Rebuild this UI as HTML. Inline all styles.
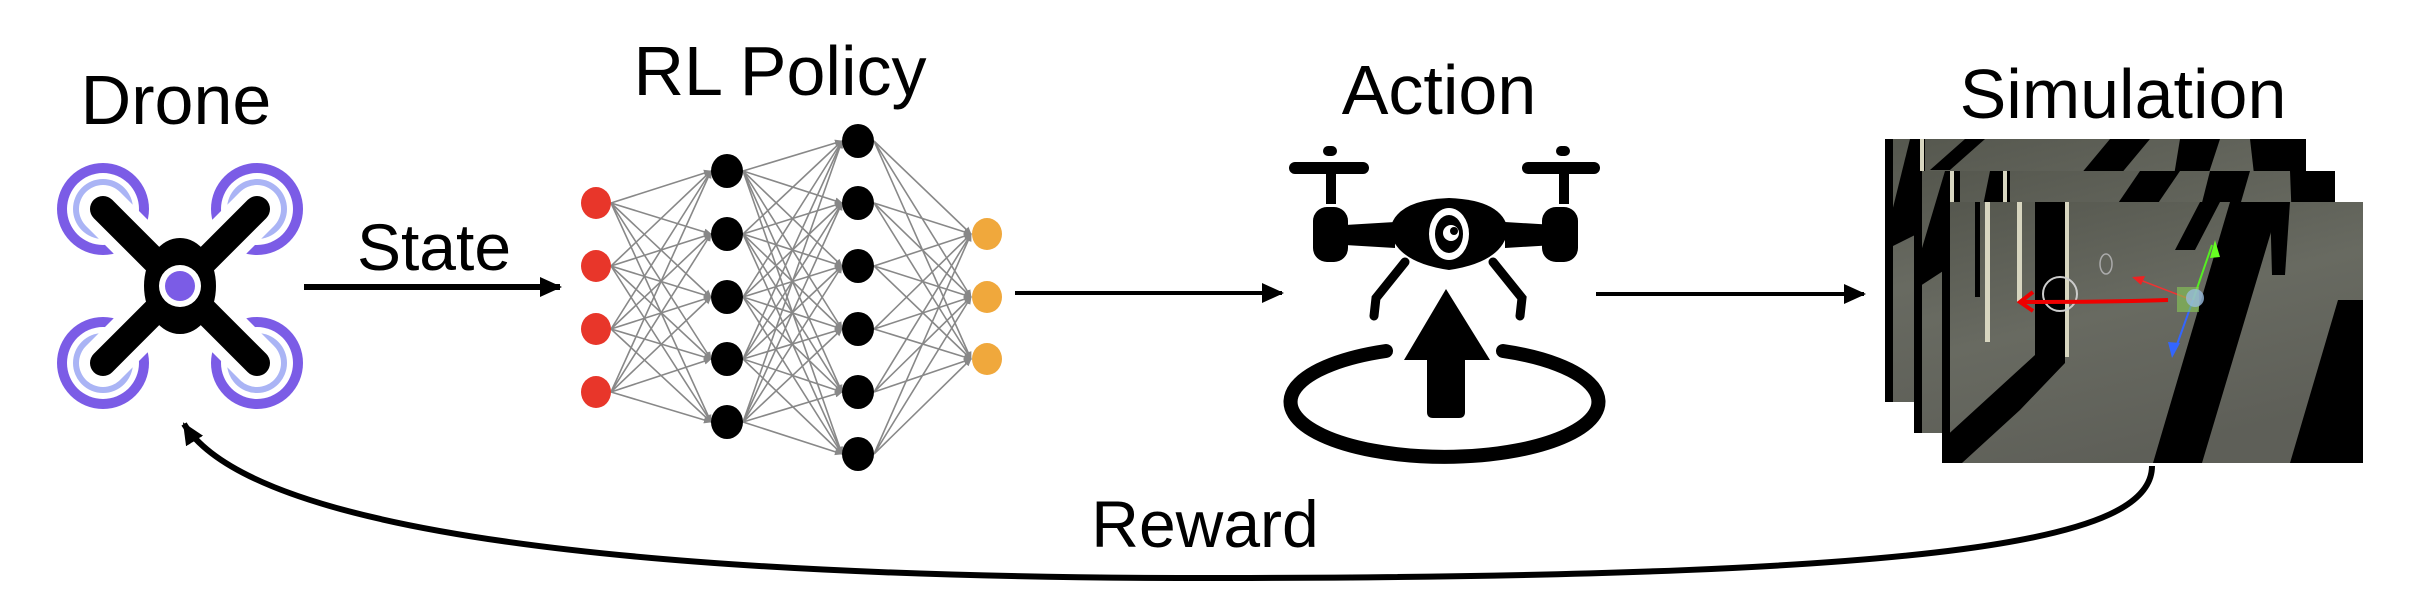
<!DOCTYPE html>
<html><head><meta charset="utf-8">
<style>
html,body{margin:0;padding:0;background:#fff;}
svg{display:block;}
text{font-family:"Liberation Sans",sans-serif;fill:#000;}
</style></head>
<body>
<svg width="2418" height="590" viewBox="0 0 2418 590" xmlns="http://www.w3.org/2000/svg">
<defs>
<marker id="ag" markerWidth="8" markerHeight="8" refX="7" refY="4" orient="auto" markerUnits="userSpaceOnUse">
<path d="M0,0.5 L8,4 L0,7.5 z" fill="#888"/></marker>
<marker id="ab" markerWidth="24" markerHeight="24" refX="20" refY="12" orient="auto" markerUnits="userSpaceOnUse">
<path d="M0,2 L22,12 L0,22 z" fill="#000"/></marker>
<linearGradient id="fl" x1="0" y1="0" x2="0.4" y2="1">
<stop offset="0" stop-color="#55574e"/><stop offset="0.5" stop-color="#686a61"/><stop offset="1" stop-color="#5e5f58"/></linearGradient>
</defs>

<text x="176" y="124" font-size="70" text-anchor="middle">Drone</text>
<text x="780" y="95" font-size="70" text-anchor="middle">RL Policy</text>
<text x="1439" y="114" font-size="70" text-anchor="middle">Action</text>
<text x="2123" y="118" font-size="70" text-anchor="middle">Simulation</text>
<text x="434" y="270" font-size="66" text-anchor="middle">State</text>
<text x="1205" y="547" font-size="66" text-anchor="middle">Reward</text>

<!-- Drone icon -->
<g>
<g fill="#7b5ce6">
<circle cx="103" cy="209" r="46"/><circle cx="257" cy="209" r="46"/>
<circle cx="103" cy="363" r="46"/><circle cx="257" cy="363" r="46"/></g>
<g fill="#fff">
<circle cx="103" cy="209" r="36"/><circle cx="257" cy="209" r="36"/>
<circle cx="103" cy="363" r="36"/><circle cx="257" cy="363" r="36"/></g>
<g fill="#aab4f5">
<circle cx="103" cy="209" r="30"/><circle cx="257" cy="209" r="30"/>
<circle cx="103" cy="363" r="30"/><circle cx="257" cy="363" r="30"/></g>
<g stroke="#fff" stroke-width="48" stroke-linecap="round">
<line x1="103" y1="209" x2="257" y2="363"/><line x1="257" y1="209" x2="103" y2="363"/></g>
<ellipse cx="180" cy="286" rx="44" ry="58" fill="#fff"/>
<g stroke="#000" stroke-width="26" stroke-linecap="round">
<line x1="103" y1="209" x2="257" y2="363"/><line x1="257" y1="209" x2="103" y2="363"/></g>
<path d="M140,245 Q180,265 220,245 Q198,286 220,327 Q180,307 140,327 Q162,286 140,245 z" fill="#000"/>
<ellipse cx="180" cy="286" rx="36" ry="48" fill="#000"/>
<circle cx="180" cy="286" r="21" fill="#fff"/>
<circle cx="180" cy="286" r="15" fill="#7b5ce6"/>
</g>

<line x1="304" y1="287" x2="560" y2="287" stroke="#000" stroke-width="6" marker-end="url(#ab)"/>

<g stroke="#888" stroke-width="1.6" fill="none">
<line marker-end="url(#ag)" x1="611" y1="203" x2="711" y2="171"/><line marker-end="url(#ag)" x1="611" y1="203" x2="711" y2="234"/><line marker-end="url(#ag)" x1="611" y1="203" x2="711" y2="297"/><line marker-end="url(#ag)" x1="611" y1="203" x2="711" y2="359"/><line marker-end="url(#ag)" x1="611" y1="203" x2="711" y2="422"/>
<line marker-end="url(#ag)" x1="611" y1="266" x2="711" y2="171"/><line marker-end="url(#ag)" x1="611" y1="266" x2="711" y2="234"/><line marker-end="url(#ag)" x1="611" y1="266" x2="711" y2="297"/><line marker-end="url(#ag)" x1="611" y1="266" x2="711" y2="359"/><line marker-end="url(#ag)" x1="611" y1="266" x2="711" y2="422"/>
<line marker-end="url(#ag)" x1="611" y1="329" x2="711" y2="171"/><line marker-end="url(#ag)" x1="611" y1="329" x2="711" y2="234"/><line marker-end="url(#ag)" x1="611" y1="329" x2="711" y2="297"/><line marker-end="url(#ag)" x1="611" y1="329" x2="711" y2="359"/><line marker-end="url(#ag)" x1="611" y1="329" x2="711" y2="422"/>
<line marker-end="url(#ag)" x1="611" y1="392" x2="711" y2="171"/><line marker-end="url(#ag)" x1="611" y1="392" x2="711" y2="234"/><line marker-end="url(#ag)" x1="611" y1="392" x2="711" y2="297"/><line marker-end="url(#ag)" x1="611" y1="392" x2="711" y2="359"/><line marker-end="url(#ag)" x1="611" y1="392" x2="711" y2="422"/>
<line marker-end="url(#ag)" x1="743" y1="171" x2="842" y2="141"/><line marker-end="url(#ag)" x1="743" y1="171" x2="842" y2="203"/><line marker-end="url(#ag)" x1="743" y1="171" x2="842" y2="266"/><line marker-end="url(#ag)" x1="743" y1="171" x2="842" y2="329"/><line marker-end="url(#ag)" x1="743" y1="171" x2="842" y2="392"/><line marker-end="url(#ag)" x1="743" y1="171" x2="842" y2="454"/>
<line marker-end="url(#ag)" x1="743" y1="234" x2="842" y2="141"/><line marker-end="url(#ag)" x1="743" y1="234" x2="842" y2="203"/><line marker-end="url(#ag)" x1="743" y1="234" x2="842" y2="266"/><line marker-end="url(#ag)" x1="743" y1="234" x2="842" y2="329"/><line marker-end="url(#ag)" x1="743" y1="234" x2="842" y2="392"/><line marker-end="url(#ag)" x1="743" y1="234" x2="842" y2="454"/>
<line marker-end="url(#ag)" x1="743" y1="297" x2="842" y2="141"/><line marker-end="url(#ag)" x1="743" y1="297" x2="842" y2="203"/><line marker-end="url(#ag)" x1="743" y1="297" x2="842" y2="266"/><line marker-end="url(#ag)" x1="743" y1="297" x2="842" y2="329"/><line marker-end="url(#ag)" x1="743" y1="297" x2="842" y2="392"/><line marker-end="url(#ag)" x1="743" y1="297" x2="842" y2="454"/>
<line marker-end="url(#ag)" x1="743" y1="359" x2="842" y2="141"/><line marker-end="url(#ag)" x1="743" y1="359" x2="842" y2="203"/><line marker-end="url(#ag)" x1="743" y1="359" x2="842" y2="266"/><line marker-end="url(#ag)" x1="743" y1="359" x2="842" y2="329"/><line marker-end="url(#ag)" x1="743" y1="359" x2="842" y2="392"/><line marker-end="url(#ag)" x1="743" y1="359" x2="842" y2="454"/>
<line marker-end="url(#ag)" x1="743" y1="422" x2="842" y2="141"/><line marker-end="url(#ag)" x1="743" y1="422" x2="842" y2="203"/><line marker-end="url(#ag)" x1="743" y1="422" x2="842" y2="266"/><line marker-end="url(#ag)" x1="743" y1="422" x2="842" y2="329"/><line marker-end="url(#ag)" x1="743" y1="422" x2="842" y2="392"/><line marker-end="url(#ag)" x1="743" y1="422" x2="842" y2="454"/>
<line marker-end="url(#ag)" x1="874" y1="141" x2="971" y2="234"/><line marker-end="url(#ag)" x1="874" y1="141" x2="971" y2="297"/><line marker-end="url(#ag)" x1="874" y1="141" x2="971" y2="359"/>
<line marker-end="url(#ag)" x1="874" y1="203" x2="971" y2="234"/><line marker-end="url(#ag)" x1="874" y1="203" x2="971" y2="297"/><line marker-end="url(#ag)" x1="874" y1="203" x2="971" y2="359"/>
<line marker-end="url(#ag)" x1="874" y1="266" x2="971" y2="234"/><line marker-end="url(#ag)" x1="874" y1="266" x2="971" y2="297"/><line marker-end="url(#ag)" x1="874" y1="266" x2="971" y2="359"/>
<line marker-end="url(#ag)" x1="874" y1="329" x2="971" y2="234"/><line marker-end="url(#ag)" x1="874" y1="329" x2="971" y2="297"/><line marker-end="url(#ag)" x1="874" y1="329" x2="971" y2="359"/>
<line marker-end="url(#ag)" x1="874" y1="392" x2="971" y2="234"/><line marker-end="url(#ag)" x1="874" y1="392" x2="971" y2="297"/><line marker-end="url(#ag)" x1="874" y1="392" x2="971" y2="359"/>
<line marker-end="url(#ag)" x1="874" y1="454" x2="971" y2="234"/><line marker-end="url(#ag)" x1="874" y1="454" x2="971" y2="297"/><line marker-end="url(#ag)" x1="874" y1="454" x2="971" y2="359"/>
</g>
<g fill="#e8362a"><ellipse cx="596" cy="203" rx="15" ry="16"/><ellipse cx="596" cy="266" rx="15" ry="16"/><ellipse cx="596" cy="329" rx="15" ry="16"/><ellipse cx="596" cy="392" rx="15" ry="16"/></g>
<g fill="#000"><ellipse cx="727" cy="171" rx="16" ry="17"/><ellipse cx="727" cy="234" rx="16" ry="17"/><ellipse cx="727" cy="297" rx="16" ry="17"/><ellipse cx="727" cy="359" rx="16" ry="17"/><ellipse cx="727" cy="422" rx="16" ry="17"/>
<ellipse cx="858" cy="141" rx="16" ry="17"/><ellipse cx="858" cy="203" rx="16" ry="17"/><ellipse cx="858" cy="266" rx="16" ry="17"/><ellipse cx="858" cy="329" rx="16" ry="17"/><ellipse cx="858" cy="392" rx="16" ry="17"/><ellipse cx="858" cy="454" rx="16" ry="17"/></g>
<g fill="#f0a83c"><ellipse cx="987" cy="234" rx="15" ry="16"/><ellipse cx="987" cy="297" rx="15" ry="16"/><ellipse cx="987" cy="359" rx="15" ry="16"/></g>

<line x1="1015" y1="293" x2="1282" y2="293" stroke="#000" stroke-width="4" marker-end="url(#ab)"/>

<!-- Action icon -->
<g fill="#000">
<rect x="1289" y="162" width="80" height="12" rx="6"/>
<rect x="1522" y="162" width="78" height="12" rx="6"/>
<rect x="1323" y="146" width="14" height="10" rx="5"/>
<rect x="1326" y="174" width="10" height="30"/>
<rect x="1556" y="146" width="14" height="10" rx="5"/>
<rect x="1559" y="174" width="10" height="30"/>
<rect x="1313" y="207" width="35" height="55" rx="14"/>
<rect x="1542" y="207" width="36" height="55" rx="14"/>
<path d="M1345,225 L1395,222 L1395,248 L1345,245 z"/>
<path d="M1555,225 L1505,222 L1505,248 L1555,245 z"/>
<path d="M1390,230 Q1395,200 1449,198 Q1503,200 1508,230 Q1503,262 1449,270 Q1395,262 1390,230 z"/>
</g>
<ellipse cx="1449" cy="234" rx="20" ry="26" fill="#fff"/>
<ellipse cx="1449" cy="234" rx="14" ry="19" fill="#000"/>
<circle cx="1451" cy="233" r="8" fill="#fff"/>
<circle cx="1454" cy="231" r="4" fill="#000"/>
<g fill="none" stroke="#000" stroke-width="9" stroke-linecap="round">
<path d="M1405,262 L1376,298 L1374,316"/>
<path d="M1493,262 L1522,298 L1520,316"/>
</g>
<path d="M1446,289 L1490,360 L1465,360 L1465,412 Q1465,418 1459,418 L1433,418 Q1427,418 1427,412 L1427,360 L1404,360 z" fill="#000"/>
<path d="M1386,351 A154,55 0 1 0 1503,351" fill="none" stroke="#000" stroke-width="14" stroke-linecap="round"/>

<line x1="1596" y1="294" x2="1864" y2="294" stroke="#000" stroke-width="4" marker-end="url(#ab)"/>

<defs>
<clipPath id="c1"><rect x="1885" y="139" width="421" height="263"/></clipPath>
<clipPath id="c2"><rect x="1914" y="171" width="421" height="262"/></clipPath>
<clipPath id="c3"><rect x="1942" y="202" width="421" height="261"/></clipPath>
</defs>
<g clip-path="url(#c1)">
<rect x="1885" y="139" width="421" height="263" fill="url(#fl)"/>
<polygon points="1885,139 1893,139 1893,402 1885,402" fill="#000"/>
<polygon points="1910,139 1925,139 1925,230 1885,250 1885,240" fill="#000"/>
<rect x="1920" y="139" width="4" height="130" fill="#d8d6c0"/>
<polygon points="1965,139 1985,139 1950,170 1930,170" fill="#000"/>
<polygon points="2110,139 2150,139 2120,175 2080,175" fill="#000"/>
<polygon points="2180,139 2220,139 2200,200 2170,200" fill="#000"/>
<polygon points="2250,139 2306,139 2306,402 2280,402" fill="#000"/>
</g>
<g clip-path="url(#c2)">
<rect x="1914" y="171" width="421" height="262" fill="url(#fl)"/>
<polygon points="1914,171 1922,171 1922,433 1914,433" fill="#000"/>
<polygon points="1945,171 1960,171 1960,260 1914,290 1914,275" fill="#000"/>
<rect x="1950" y="171" width="4" height="135" fill="#d8d6c0"/>
<polygon points="1990,171 2010,171 2010,230 1975,245" fill="#000"/>
<rect x="2003" y="171" width="4" height="110" fill="#d8d6c0"/>
<polygon points="2140,171 2180,171 2150,215 2110,215" fill="#000"/>
<polygon points="2210,171 2250,171 2230,240 2190,250" fill="#000"/>
<polygon points="2290,171 2335,171 2335,433 2300,433" fill="#000"/>
</g>
<g clip-path="url(#c3)">
<rect x="1942" y="202" width="421" height="261" fill="url(#fl)"/>
<polygon points="1942,202 1950,202 1950,463 1942,463" fill="#000"/>
<rect x="1975" y="202" width="5" height="95" fill="#000"/>
<rect x="1985" y="202" width="5" height="140" fill="#d8d6c0"/>
<rect x="2017" y="202" width="5" height="100" fill="#d8d6c0"/>
<polygon points="2035,202 2065,202 2065,363 2020,410 1962,463 1942,463 1942,440 2035,355" fill="#000"/>
<rect x="2065" y="202" width="4" height="155" fill="#d8d6c0"/>
<polygon points="2045,202 2060,202 2060,240 2045,250" fill="#000"/>
<polygon points="2230,202 2280,202 2202,463 2153,463" fill="#000"/>
<polygon points="2270,202 2290,202 2285,275 2272,275" fill="#000"/>
<polygon points="2363,300 2363,463 2290,463 2338,300" fill="#000"/>
<polygon points="2200,202 2220,202 2195,250 2175,250" fill="#000"/>
<circle cx="2060" cy="294" r="17" fill="none" stroke="#ccc" stroke-width="2"/>
<ellipse cx="2106" cy="264" rx="6" ry="10" fill="none" stroke="#aaa" stroke-width="1.5"/>
<path d="M2168,300 Q2110,302 2022,302" fill="none" stroke="#e00" stroke-width="4"/>
<path d="M2033,292 L2020,302 L2033,311" fill="none" stroke="#e00" stroke-width="4"/>
<line x1="2192" y1="300" x2="2140" y2="280" stroke="#e33" stroke-width="1.5"/>
<polygon points="2132,277 2145,276 2141,285" fill="#e22"/>
<line x1="2193" y1="300" x2="2212" y2="245" stroke="#5e2" stroke-width="2"/>
<polygon points="2215,240 2210,258 2220,257" fill="#6f2"/>
<line x1="2193" y1="300" x2="2175" y2="350" stroke="#36f" stroke-width="2"/>
<polygon points="2172,358 2168,342 2180,343" fill="#36f"/>
<rect x="2177" y="287" width="22" height="25" fill="#8c5" opacity="0.6"/>
<circle cx="2195" cy="298" r="9" fill="#9bd" opacity="0.8"/>
</g>

<path d="M2152,466 C2152,540 1950,576 1250,578 C620,580 250,530 184,424" fill="none" stroke="#000" stroke-width="6" marker-end="url(#ab)"/>
</svg>
</body></html>
